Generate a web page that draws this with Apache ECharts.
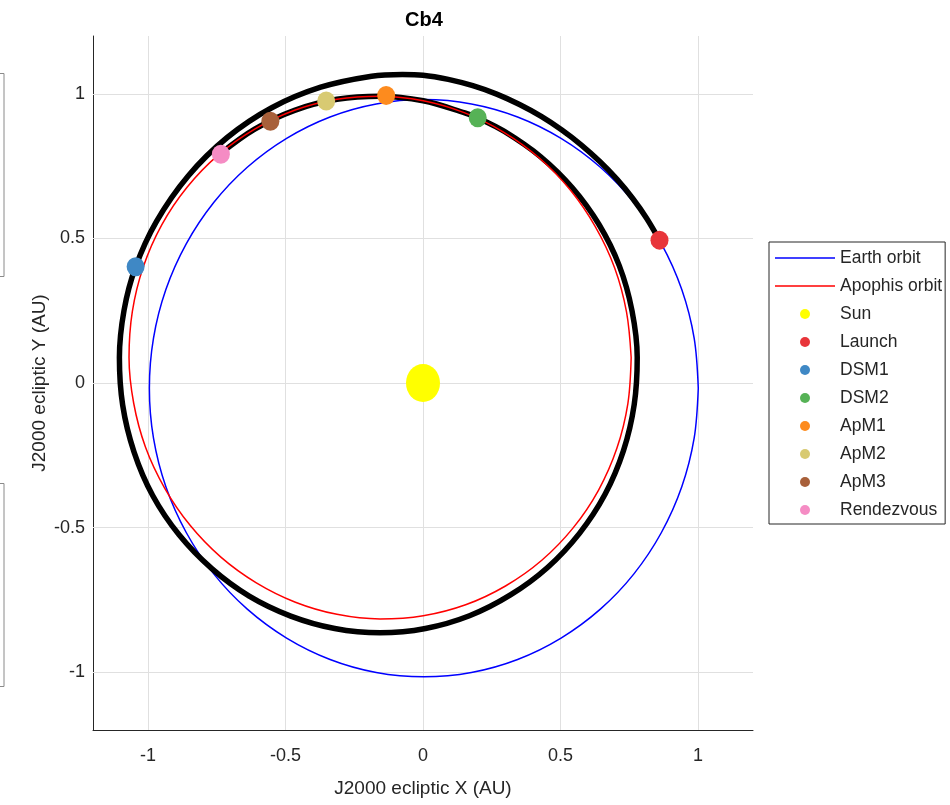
<!DOCTYPE html>
<html>
<head>
<meta charset="utf-8">
<script src="https://cdn.jsdelivr.net/npm/echarts@6/dist/echarts.min.js"></script>
<style>
html,body{margin:0;padding:0;background:#ffffff;}
#c{width:950px;height:805px;}
</style>
</head>
<body>
<div id="c"></div>
<script>
// ---- data (AU) ----
const xTicks = [-1, -0.5, 0, 0.5, 1];
const yTicks = [-1, -0.5, 0, 0.5, 1];

const earthOrbit = [
  [1.001,-0.018],[0.986,0.155],[0.941,0.323],[0.867,0.481],[0.767,0.624],[0.645,0.746],
  [0.502,0.846],[0.344,0.920],[0.176,0.965],[0.003,0.980],[-0.170,0.965],[-0.338,0.920],
  [-0.496,0.846],[-0.639,0.746],[-0.761,0.624],[-0.861,0.481],[-0.935,0.323],[-0.980,0.155],
  [-0.995,-0.018],[-0.980,-0.191],[-0.935,-0.359],[-0.861,-0.517],[-0.761,-0.660],[-0.639,-0.782],
  [-0.496,-0.882],[-0.338,-0.956],[-0.170,-1.001],[0.003,-1.016],[0.176,-1.001],[0.344,-0.956],
  [0.502,-0.882],[0.645,-0.782],[0.767,-0.660],[0.867,-0.517],[0.941,-0.359],[0.986,-0.191],
  [1.001,-0.018]
];

const apophisOrbit = [
  [0.757,0.088],[0.740,0.246],[0.697,0.398],[0.627,0.540],[0.535,0.668],[0.423,0.778],
  [0.294,0.867],[0.152,0.934],[0.001,0.976],[-0.156,0.992],[-0.313,0.981],[-0.467,0.943],
  [-0.612,0.878],[-0.744,0.789],[-0.858,0.677],[-0.950,0.547],[-1.017,0.402],[-1.057,0.247],
  [-1.069,0.088],[-1.052,-0.070],[-1.009,-0.222],[-0.939,-0.364],[-0.847,-0.492],[-0.735,-0.602],
  [-0.606,-0.691],[-0.464,-0.758],[-0.313,-0.800],[-0.156,-0.816],[0.001,-0.805],[0.155,-0.767],
  [0.300,-0.702],[0.432,-0.613],[0.546,-0.501],[0.638,-0.371],[0.705,-0.226],[0.745,-0.071],
  [0.757,0.088]
];

// spacecraft path: launch -> DSM1 -> DSM2 -> along Apophis orbit to rendezvous
const trajectory = [
  [0.860,0.494],[0.813,0.570],[0.762,0.639],[0.705,0.705],[0.643,0.766],[0.576,0.823],
  [0.505,0.875],[0.430,0.922],[0.351,0.963],[0.268,0.999],[0.181,1.028],[0.092,1.050],
  [0.000,1.0645],[-0.075,1.067],[-0.187,1.061],[-0.372,1.023],[-0.550,0.952],
  [-0.712,0.849],[-0.854,0.716],[-0.969,0.559],[-1.045,0.402],
  [-1.087,0.252],[-1.104,0.088],[-1.092,-0.077],[-1.051,-0.238],[-0.983,-0.389],[-0.887,-0.525],
  [-0.768,-0.642],[-0.632,-0.737],[-0.481,-0.806],[-0.321,-0.849],[-0.156,-0.864],[0.009,-0.849],
  [0.169,-0.805],[0.318,-0.733],[0.453,-0.638],[0.569,-0.520],[0.662,-0.385],[0.729,-0.234],
  [0.768,-0.075],[0.779,0.088],[0.760,0.250],[0.714,0.405],[0.640,0.548],[0.543,0.675],
  [0.427,0.783],[0.296,0.870],[0.199,0.917],
  [0.152,0.934],[0.001,0.976],[-0.156,0.992],[-0.313,0.981],[-0.467,0.943],[-0.612,0.878],
  [-0.737,0.793]
];

const sunPoint = [[0, 0]];
const eventNames = ['Launch','DSM1','DSM2','ApM1','ApM2','ApM3','Rendezvous'];
const eventX = [0.860, -1.045, 0.199, -0.134, -0.352, -0.555, -0.735];
const eventY = [0.494, 0.402, 0.917, 0.994, 0.975, 0.905, 0.791];
const legendNames = ['Earth orbit','Apophis orbit','Sun'].concat(eventNames);

// ---- styles ----
const eventColors = ['#e8353a','#3f88c5','#56b256','#fd8b1e','#d8ca72','#a8603a','#f58cc4'];
const FONT = "'Liberation Sans', Arial, Helvetica, sans-serif";
const TXT = '#262626';
const lineIcon = 'path://M0,0H60V1.5H0Z';

const chart = echarts.init(document.getElementById('c'), null, {renderer: 'canvas'});

const gridMarks = xTicks.map(v => ({xAxis: v})).concat(yTicks.map(v => ({yAxis: v})));

const series = [
  {
    name: 'grid', type: 'line', data: [], z: 1, silent: true,
    markLine: {
      z: 1, silent: true, symbol: ['none','none'], animation: false,
      label: {show: false},
      emphasis: {disabled: true},
      lineStyle: {color: '#e0e0e0', width: 1, type: 'solid'},
      data: gridMarks
    }
  },
  {
    name: 'Earth orbit', type: 'line', data: earthOrbit, smooth: 0.34,
    symbol: 'none', showSymbol: false, color: '#0000ff',
    lineStyle: {color: '#0000ff', width: 1.5}, z: 2, silent: true
  },
  {
    name: 'Trajectory', type: 'line', data: trajectory, smooth: 0.35,
    symbol: 'none', showSymbol: false, color: '#000000',
    lineStyle: {color: '#000000', width: 5.5, cap: 'butt', join: 'round'}, z: 3, silent: true
  },
  {
    name: 'Apophis orbit', type: 'line', data: apophisOrbit, smooth: 0.34,
    symbol: 'none', showSymbol: false, color: '#ff0000',
    lineStyle: {color: '#ff0000', width: 1.5}, z: 4, silent: true
  },
  {
    name: 'Sun', type: 'scatter', data: sunPoint, symbol: 'circle', symbolSize: [34, 38],
    itemStyle: {color: '#ffff00', opacity: 1}, z: 5, silent: true
  }
];

eventNames.forEach((n, i) => {
  series.push({
    name: n, type: 'scatter', data: [[eventX[i], eventY[i]]],
    symbol: 'circle', symbolSize: [18, 19],
    itemStyle: {color: eventColors[i], opacity: 1}, z: 6, silent: true
  });
});

const legendData = legendNames.map((n, i) => i < 2 ? {name: n, icon: lineIcon} : {name: n, icon: 'circle'});

chart.setOption({
  animation: false,
  backgroundColor: '#ffffff',
  grid: {left: 93, top: 36, width: 660, height: 694, containLabel: false, outerBoundsMode: 'none'},
  xAxis: {
    type: 'value', min: -1.2, max: 1.2,
    name: 'J2000 ecliptic X (AU)', nameLocation: 'middle', nameGap: 49, nameMoveOverlap: false,
    nameTextStyle: {fontSize: 19, color: TXT, fontFamily: FONT},
    axisLine: {show: true, onZero: false, lineStyle: {color: TXT, width: 1}},
    axisTick: {show: true, inside: true, length: 7, customValues: xTicks, lineStyle: {color: TXT, width: 1}},
    axisLabel: {customValues: xTicks, margin: 17, fontSize: 18, color: TXT, fontFamily: FONT},
    splitLine: {show: false}
  },
  yAxis: {
    type: 'value', min: -1.2, max: 1.2,
    name: 'J2000 ecliptic Y (AU)', nameLocation: 'middle', nameGap: 44, nameMoveOverlap: false,
    nameTextStyle: {fontSize: 19, color: TXT, fontFamily: FONT},
    axisLine: {show: true, onZero: false, lineStyle: {color: TXT, width: 1}},
    axisTick: {show: true, inside: true, length: 7, customValues: yTicks, lineStyle: {color: TXT, width: 1}},
    axisLabel: {customValues: yTicks, margin: 8, fontSize: 18, color: TXT, fontFamily: FONT},
    splitLine: {show: false}
  },
  legend: {
    show: true, orient: 'vertical', left: 769, top: 242,
    itemWidth: 60, itemHeight: 10, itemGap: 8,
    padding: [6, 3, 4, 6],
    borderColor: TXT, borderWidth: 1, backgroundColor: '#ffffff',
    selectedMode: false,
    textStyle: {fontSize: 17.5, color: TXT, fontFamily: FONT, lineHeight: 20},
    data: legendData
  },
  graphic: [
    {type: 'text', x: 424, y: 20, silent: true,
     style: {text: 'Cb4', font: "bold 20px 'Liberation Sans', Arial, sans-serif", fill: '#000000',
             textAlign: 'center', textVerticalAlign: 'middle', align: 'center', verticalAlign: 'middle'}},
    {type: 'rect', silent: true, shape: {x: -10, y: 73.5, width: 14, height: 203},
     style: {fill: 'none', stroke: '#8a8a8a', lineWidth: 1}},
    {type: 'rect', silent: true, shape: {x: -10, y: 483.5, width: 14, height: 203},
     style: {fill: 'none', stroke: '#8a8a8a', lineWidth: 1}}
  ],
  series: series
});
</script>
</body>
</html>
